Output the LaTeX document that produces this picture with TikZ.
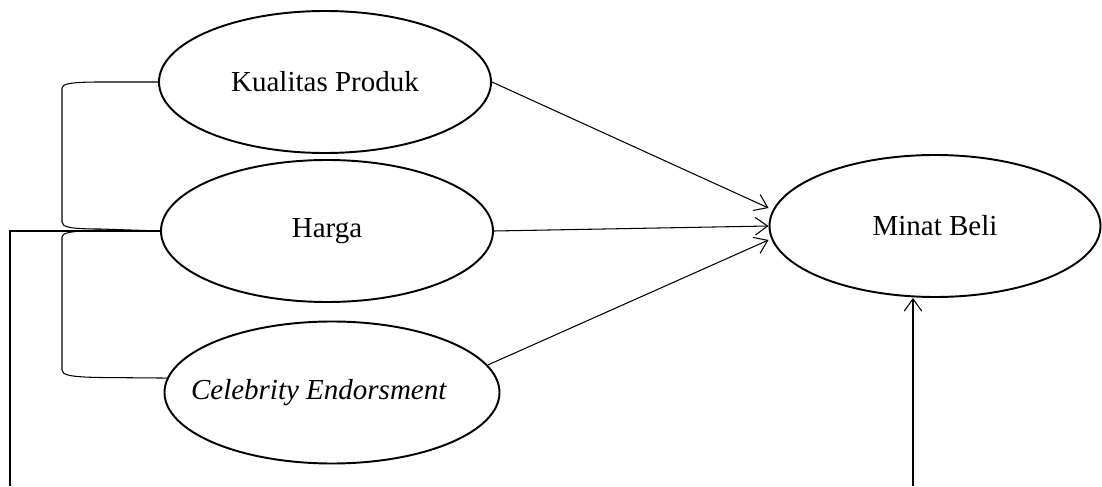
\documentclass[tikz,border=0pt]{standalone}
\usepackage{fontspec}
\setmainfont{Liberation Serif}
\usetikzlibrary{shapes.geometric,arrows.meta}
\tikzstyle{var}=[ellipse, draw, line width=1.1pt, inner sep=0pt, minimum width=6.64cm, minimum height=2.84cm, font=\fontsize{16.5}{19}\selectfont]
\tikzstyle{path}=[-{Straight Barb[length=7pt,width=10pt]}, line width=0.6pt]
\tikzstyle{link}=[line width=0.6pt]

\begin{document}
\begin{tikzpicture}
  \useasboundingbox (0,0) rectangle (22.04,9.72);

  \draw (6.50,8.08) node[var] (KP) {Kualitas Produk};
  \draw (6.54,5.10) node[var] (H) {Harga};
  \draw (6.64,1.87) node[var, minimum width=6.70cm] (CE)
    {\makebox[0pt]{\raisebox{0.1cm}{\textit{Celebrity Endorsment}}\hspace{0.52cm}}};
  \draw (18.70,5.20) node[var, minimum width=6.62cm] (MB) {Minat Beli};

  \coordinate (lb) at (0.2,0);
  \coordinate (mb) at (18.26,0);

  %% brackets on the left
  \draw[link] (KP.west) -- (2.0,8.08) .. controls (1.40,8.08) and (1.24,8.04) .. (1.24,7.96)
    -- (1.24,5.28) .. controls (1.24,5.18) and (1.40,5.14) .. (2.0,5.14) -- (H.west);
  \draw[link] (H.west) -- (2.0,5.12) .. controls (1.40,5.10) and (1.24,5.06) .. (1.24,4.98)
    -- (1.24,2.32) .. controls (1.24,2.22) and (1.40,2.18) .. (2.0,2.17) -- (CE.175);
  \draw[link] (H.west) -| (lb);

  %% paths to Minat Beli
  \draw[path] (KP.east) -- ([yshift=0.36cm]MB.west);
  \draw[path] (H.east) -- (MB.west);
  \draw[path] (CE.10) -- ([yshift=-0.28cm]MB.west);
  \draw[path] (mb) -- (mb |- MB.south);
\end{tikzpicture}
\end{document}
